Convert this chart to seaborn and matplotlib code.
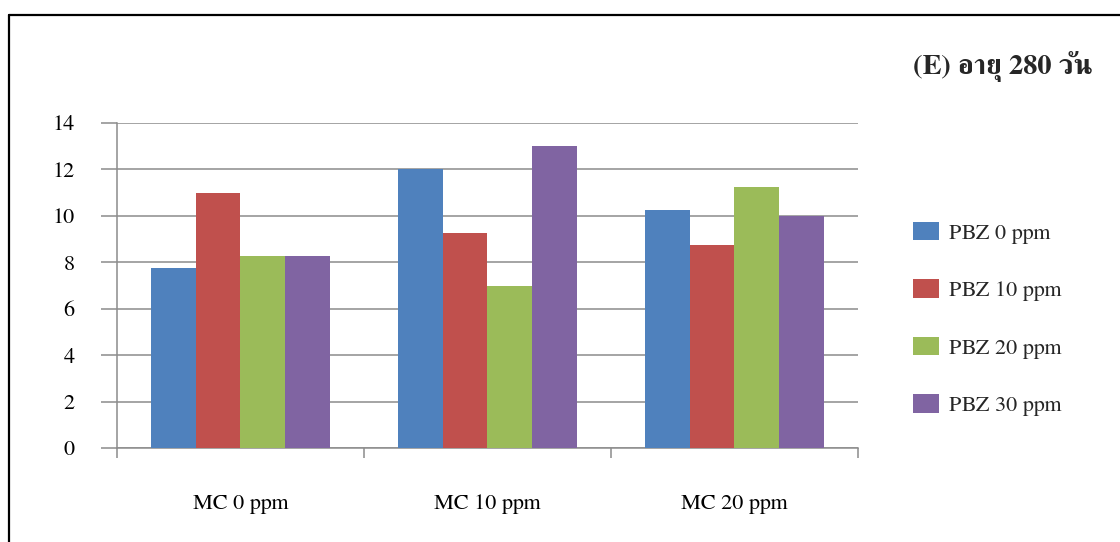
import matplotlib
matplotlib.use("Agg")
import matplotlib.pyplot as plt
from matplotlib.lines import Line2D
from matplotlib.ticker import FixedLocator
import pandas as pd
import seaborn as sns

# Treatment groups and measured values (age 280 days)
mc_levels = ["MC 0 ppm", "MC 10 ppm", "MC 20 ppm"]
pbz_levels = ["PBZ 0 ppm", "PBZ 10 ppm", "PBZ 20 ppm", "PBZ 30 ppm"]
pbz_0 = [7.75, 12.0, 10.25]
pbz_10 = [11.0, 9.25, 8.75]
pbz_20 = [8.25, 7.0, 11.25]
pbz_30 = [8.25, 13.0, 10.0]
y_ticks = [0, 2, 4, 6, 8, 10, 12, 14]
title_text = "(E) อายุ 280 วัน"

colors = ["#4F81BD", "#C0504D", "#9BBB59", "#8064A2"]

series = [pbz_0, pbz_10, pbz_20, pbz_30]
df = pd.DataFrame({
    "mc": mc_levels * len(pbz_levels),
    "pbz": [p for p in pbz_levels for _ in mc_levels],
    "value": [v for s in series for v in s],
})

sns.set_theme(style="white")
plt.rcParams["font.family"] = ["FreeSerif", "DejaVu Sans"]

fig = plt.figure(figsize=(11.2, 5.42), dpi=100)
ax = fig.add_axes([117 / 1120, 1 - 448 / 542, (858 - 117) / 1120, (448 - 123) / 542])

sns.barplot(data=df, x="mc", y="value", hue="pbz", order=mc_levels,
            hue_order=pbz_levels, palette=colors, width=0.728,
            saturation=1, errorbar=None, linewidth=0, ax=ax, zorder=3)

grid_c = "#8C8C8C"
fs = 16
ax.set_ylim(0, 14)
ax.set_xlim(-0.5, 2.5)
ax.set_yticks(y_ticks)
ax.set_yticklabels([str(t) for t in y_ticks])
ax.yaxis.grid(True, color=grid_c, linewidth=1.1, zorder=0)
ax.set_axisbelow(True)
ax.tick_params(axis="y", which="major", length=11.5, width=1.1, color=grid_c,
               pad=19, labelsize=fs, labelcolor="black", left=True)
ax.tick_params(axis="x", which="major", length=0, pad=33, labelsize=fs,
               labelcolor="black")
ax.xaxis.set_minor_locator(FixedLocator([-0.5, 0.5, 1.5, 2.5]))
ax.tick_params(axis="x", which="minor", length=7, width=1.1, color=grid_c,
               bottom=True)
for s in ["top", "right"]:
    ax.spines[s].set_visible(False)
for s in ["left", "bottom"]:
    ax.spines[s].set_color(grid_c)
    ax.spines[s].set_linewidth(1.1)
ax.set_xlabel("")
ax.set_ylabel("")

handles, labels = ax.get_legend_handles_labels()
ax.legend(handles, labels, loc="center left", bbox_to_anchor=(904 / 1120, 1 - 319 / 542),
          bbox_transform=fig.transFigure, frameon=False, fontsize=fs,
          handlelength=1.17, handleheight=0.9, handletextpad=0.45,
          labelspacing=1.6, borderaxespad=0)

fig.text(1093 / 1120, 1 - 67 / 542, title_text, ha="right", va="center",
         fontsize=20.5, fontweight="bold")

# chart frame edges
fig.add_artist(Line2D([8.5 / 1120, 8.5 / 1120], [0, 1 - 14.5 / 542],
                      transform=fig.transFigure, color="black", linewidth=1.6))
fig.add_artist(Line2D([8.5 / 1120, 1], [1 - 14.5 / 542, 1 - 14.5 / 542],
                      transform=fig.transFigure, color="black", linewidth=1.6))

fig.savefig("out.png", dpi=100, facecolor="white")
